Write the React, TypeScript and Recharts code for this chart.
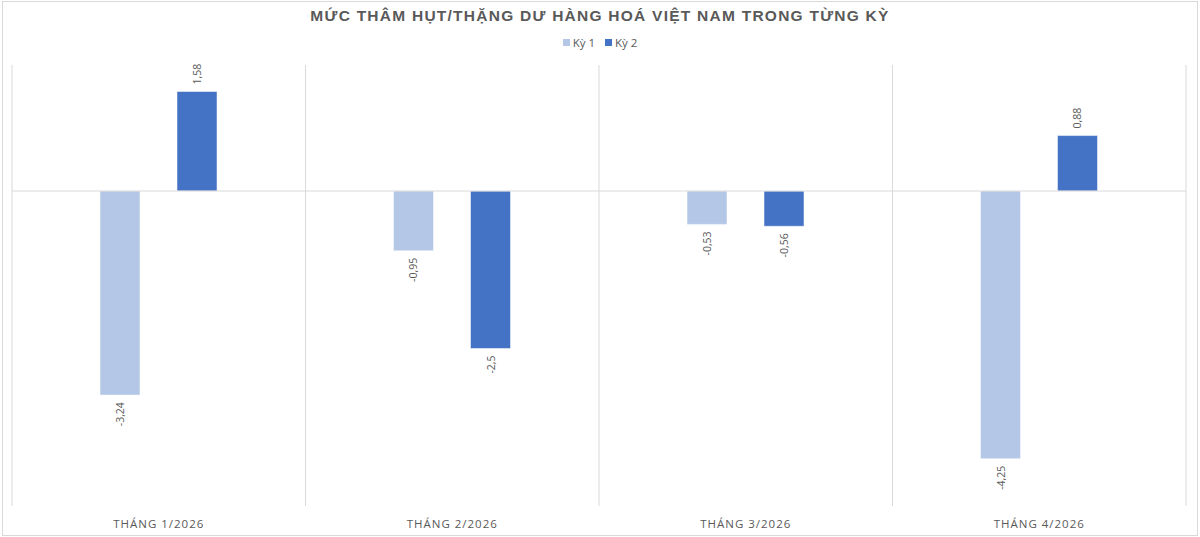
import React from "react";
import { BarChart, Bar, XAxis, YAxis, ReferenceLine, LabelList, CartesianGrid } from "recharts";

const categories = ["THÁNG 1/2026", "THÁNG 2/2026", "THÁNG 3/2026", "THÁNG 4/2026"];
const ky1Values = [-3.24, -0.95, -0.53, -4.25];
const ky2Values = [1.58, -2.5, -0.56, 0.88];
const seriesNames = ["Kỳ 1", "Kỳ 2"];
const seriesColors = ["#B4C7E7", "#4472C4"];
const title = "MỨC THÂM HỤT/THẶNG DƯ HÀNG HOÁ VIỆT NAM TRONG TỪNG KỲ";

const data = categories.map((c, i) => ({ name: c, ky1: ky1Values[i], ky2: ky2Values[i] }));

const fmt = (v: number) => String(v).replace(".", ",");

const RotLabel = (props: any) => {
  const { x, y, width, height, value } = props;
  const cx = x + width / 2;
  const neg = value < 0;
  const top = Math.min(y, y + height);
  const bottom = Math.max(y, y + height);
  const py = neg ? bottom + 7 : top - 7;
  return (
    <text
      x={cx}
      y={py}
      transform={`rotate(-90 ${cx} ${py})`}
      textAnchor={neg ? "end" : "start"}
      dominantBaseline="central"
      fill="#595959"
      fontSize={10.5}
      fontFamily="'Open Sans', sans-serif"
    >
      {fmt(value)}
    </text>
  );
};

const CatTick = (props: any) => {
  const { x, y, payload } = props;
  return (
    <text
      x={x}
      y={y + 14}
      textAnchor="middle"
      fill="#595959"
      fontSize={11.5}
      letterSpacing={1}
      fontFamily="'Open Sans', sans-serif"
    >
      {payload.value}
    </text>
  );
};

// boundaries between categories, derived from the plot area
const boundaryGenerator = (props: any) => {
  const off = props.offset;
  const n = categories.length;
  const step = off.width / n;
  return Array.from({ length: n + 1 }, (_, i) => off.left + i * step);
};

export default function App() {
  return (
    <div style={{ position: "absolute", left: 0, top: 0, width: 1200, height: 537, background: "#fff", fontFamily: "'Open Sans', sans-serif" }}>
      <div style={{ position: "absolute", left: 2, top: 1, width: 1194, height: 533, border: "1px solid #d9d9d9" }} />
      <div
        style={{
          position: "absolute",
          left: 0,
          top: 7,
          width: 1200,
          textAlign: "center",
          fontFamily: "'Liberation Sans', Arial, sans-serif",
          fontWeight: "bold",
          fontSize: 15.5,
          letterSpacing: 1.25,
          color: "#595959",
        }}
      >
        {title}
      </div>
      <div
        style={{
          position: "absolute",
          left: 0,
          top: 35,
          width: 1200,
          display: "flex",
          justifyContent: "center",
          gap: 10,
          fontSize: 11.5,
          color: "#595959",
        }}
      >
        {seriesNames.map((n, i) => (
          <div key={n} style={{ display: "flex", alignItems: "center", gap: 3 }}>
            <span style={{ display: "inline-block", width: 7, height: 7, background: seriesColors[i] }} />
            <span>{n}</span>
          </div>
        ))}
      </div>
      <div style={{ position: "absolute", left: 0, top: 0 }}>
        <BarChart
          width={1200}
          height={537}
          data={data}
          margin={{ top: 65, right: 14, bottom: 0, left: 12 }}
          barSize={40}
          barGap={37}
        >
          <CartesianGrid
            horizontal={false}
            vertical={true}
            stroke="#d9d9d9"
            strokeDasharray=""
            verticalCoordinatesGenerator={boundaryGenerator}
          />
          <XAxis
            dataKey="name"
            type="category"
            axisLine={false}
            tickLine={false}
            height={31}
            tick={<CatTick />}
            interval={0}
          />
          <YAxis hide domain={[-5, 2]} type="number" />
          <ReferenceLine y={0} stroke="#d9d9d9" strokeWidth={1} />
          <Bar dataKey="ky1" name={seriesNames[0]} fill={seriesColors[0]} stroke="#ffffff" strokeWidth={0.5} isAnimationActive={false}>
            <LabelList dataKey="ky1" content={<RotLabel />} />
          </Bar>
          <Bar dataKey="ky2" name={seriesNames[1]} fill={seriesColors[1]} stroke="#ffffff" strokeWidth={0.5} isAnimationActive={false}>
            <LabelList dataKey="ky2" content={<RotLabel />} />
          </Bar>
        </BarChart>
      </div>
    </div>
  );
}
